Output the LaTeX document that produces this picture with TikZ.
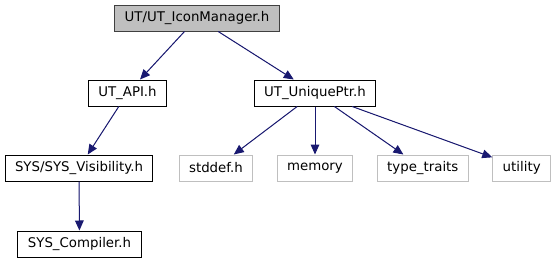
\documentclass[tikz,border=0pt]{standalone}
\usepackage{fontspec}
\setmainfont{DejaVu Sans}
\usetikzlibrary{arrows.meta,positioning}
\definecolor{edgeblue}{HTML}{191970}
\definecolor{extgray}{HTML}{BFBFBF}

\begin{document}
\begin{tikzpicture}[
  x=0.75pt, y=-0.75pt,
  node distance=17.5pt,
  box/.style={draw=black, line width=0.75pt, fill=white, minimum height=19.5pt, inner xsep=7.5pt, inner ysep=0pt, font=\fontsize{10}{12}\selectfont},
  root/.style={box, fill=extgray, draw=black!75},
  ext/.style={box, draw=extgray},
  arr/.style={-{Triangle[length=7.5pt, width=6.5pt]}, line width=0.75pt, draw=edgeblue, fill=edgeblue}
]
\useasboundingbox (0,0) rectangle (560,261);
\node[root] (icon) at (197,18) {UT/UT\_IconManager.h};
\node[box] (api) at (127.5,93) {UT\_API.h};
\node[box] (uptr) at (315,93) {UT\_UniquePtr.h};
\node[box] (vis) at (79,168) {SYS/SYS\_Visibility.h};
\node[box] (comp) at (79.5,244) {SYS\_Compiler.h};
\node[ext] (memory) at (315,168) {memory};
\node[ext, left=of memory] (stddef) {stddef.h};
\node[ext, right=of memory] (traits) {type\_traits};
\node[ext, right=of traits] (utility) {utility};

\draw[arr] (icon) -- (api);
\draw[arr] (icon) -- (uptr);
\draw[arr] (api) -- (vis);
\draw[arr] (vis) -- (comp);
\draw[arr] (uptr) -- (stddef);
\draw[arr] (uptr) -- (memory);
\draw[arr] (uptr) -- (traits);
\draw[arr] (uptr) -- (utility);
\end{tikzpicture}
\end{document}
